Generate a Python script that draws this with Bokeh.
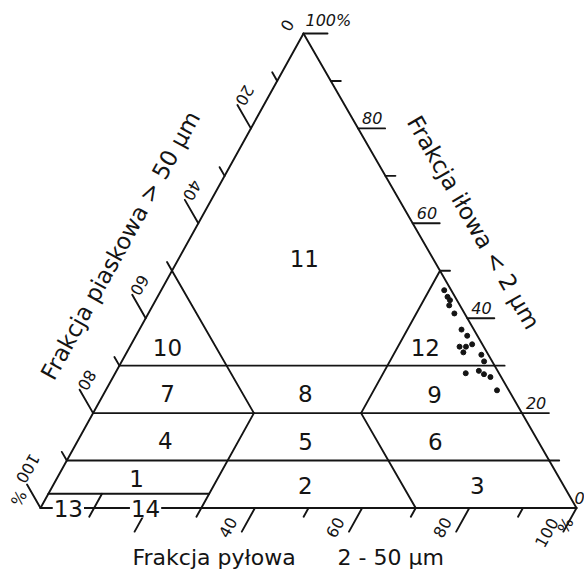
import math
from bokeh.plotting import figure
from bokeh.models import Range1d
from bokeh.core.properties import value
from bokeh.embed import file_html
from bokeh.resources import INLINE

# ---------------- data ----------------
# measured samples (percent of each fraction)
pt_sand = [1.3, 1.4, 1.3, 2.0, 1.9, 2.3, 1.9, 4.5, 3.3, 1.9, 4.4, 1.3, 1.5, 6.2, 3.5, 2.9, 2.0, 2.2]
pt_silt = [52.8, 54.1, 54.9, 55.3, 57.1, 60.1, 61.8, 61.5, 62.7, 63.6, 62.8, 66.4, 67.6, 65.4, 67.6, 68.9, 70.4, 73.0]
pt_clay = [45.9, 44.5, 43.8, 42.7, 41.0, 37.6, 36.3, 34.0, 34.0, 34.5, 32.8, 32.3, 30.9, 28.4, 28.9, 28.2, 27.6, 24.8]

# class boundaries (sand, silt, clay) start -> end
bnd_start = [(70, 0, 30), (80, 0, 20), (90, 0, 10), (97, 0, 3), (50, 0, 50),
             (50, 30, 20), (30, 50, 20), (30, 50, 20), (87, 10, 3)]
bnd_end = [(0, 70, 30), (0, 80, 20), (0, 90, 10), (67, 30, 3), (50, 30, 20),
           (70, 30, 0), (0, 50, 50), (30, 70, 0), (90, 10, 0)]

region_names = ["1", "2", "3", "4", "5", "6", "7", "8", "9", "10", "11", "12", "13", "14"]

tick_values = [10, 20, 30, 40, 50, 60, 70, 80, 90, 100]
left_labels = [20, 40, 60, 80, 100]
bottom_labels = [40, 60, 80, 100]
right_labels = [0, 20, 40, 60, 80]

title_sand = "Frakcja piaskowa > 50 µm"
title_clay = "Frakcja iłowa < 2 µm"
title_silt_a = "Frakcja pyłowa"
title_silt_b = "2 - 50 µm"

# ---------------- layout ----------------
W, H = 584, 574
BL = (40.0, 68.5)     # sand 100 %
BR = (576.0, 68.5)    # silt 100 %
AP = (303.0, 543.0)   # clay 100 %

# region label anchors (sand, silt, clay)
region_pos = {
    "1": (78.9, 14.9, 6.2), "2": (48.2, 47.1, 4.7), "3": (16.1, 79.2, 4.7),
    "4": (69.5, 16.3, 14.2), "5": (43.4, 42.6, 14.0), "6": (19.2, 66.8, 14.0),
    "7": (64.0, 11.9, 24.1), "8": (38.3, 37.6, 24.1), "9": (14.3, 61.8, 23.9),
    "10": (59.1, 7.1, 33.8), "11": (24.0, 23.4, 52.6), "12": (11.0, 55.2, 33.8),
    "13": (94.8, 5.2, 0.0), "14": (80.4, 19.6, 0.0),
}


def tern(sand, silt, clay):
    t = sand + silt + clay
    x = (sand * BL[0] + silt * BR[0] + clay * AP[0]) / t
    y = (sand * BL[1] + silt * BR[1] + clay * AP[1]) / t
    return x, y


def unit(dx, dy):
    n = math.hypot(dx, dy)
    return dx / n, dy / n


dir_left = unit(AP[0] - BR[0], AP[1] - BR[1])    # outward from left edge
dir_bottom = unit(BL[0] - AP[0], BL[1] - AP[1])  # outward from bottom edge
MAJ, MIN = 27.0, 10.0

INK = "#141414"
FONT = value("DejaVu Sans")

p = figure(width=W, height=H, x_range=Range1d(0, W), y_range=Range1d(576 - H, 576),
           x_axis_type=None, y_axis_type=None, toolbar_location=None,
           output_backend="svg", min_border=0, outline_line_color=None,
           background_fill_color="white", border_fill_color="white")

xs, ys = [], []
# triangle frame
for a, b in [((100, 0, 0), (0, 100, 0)), ((0, 100, 0), (0, 0, 100)), ((0, 0, 100), (100, 0, 0))]:
    x0, y0 = tern(*a); x1, y1 = tern(*b)
    xs.append([x0, x1]); ys.append([y0, y1])
# class boundaries
for a, b in zip(bnd_start, bnd_end):
    x0, y0 = tern(*a); x1, y1 = tern(*b)
    xs.append([x0, x1]); ys.append([y0, y1])
# ticks
for v in tick_values:
    L = MAJ if v % 20 == 0 else MIN
    # sand (left edge)
    x0, y0 = tern(v, 0, 100 - v)
    xs.append([x0, x0 + dir_left[0] * L]); ys.append([y0, y0 + dir_left[1] * L])
    # silt (bottom edge)
    x0, y0 = tern(100 - v, v, 0)
    xs.append([x0, x0 + dir_bottom[0] * L]); ys.append([y0, y0 + dir_bottom[1] * L])
    # clay (right edge)
    x0, y0 = tern(0, 100 - v, v)
    Lr = 24.0 if v == 100 else L
    xs.append([x0, x0 + Lr]); ys.append([y0, y0])

p.multi_line(xs, ys, line_color=INK, line_width=1.9, line_cap="round", line_join="round")

# sample points
px, py = zip(*[tern(a, s, c) for a, s, c in zip(pt_sand, pt_silt, pt_clay)])
p.scatter(list(px), list(py), size=5, color=INK)

# region labels
rx, ry, rt = [], [], []
bx, by, bt = [], [], []
for name in region_names:
    x, y = tern(*region_pos[name])
    if name in ("13", "14"):
        bx.append(x); by.append(y); bt.append(name)
    else:
        rx.append(x); ry.append(y); rt.append(name)
p.text(rx, ry, text=rt, text_font=FONT, text_font_size="23px", text_color=INK,
       text_align="center", text_baseline="middle")
p.text(bx, by, text=bt, text_font=FONT, text_font_size="23px", text_color=INK,
       text_align="center", text_baseline="middle",
       background_fill_color="white", padding=1)

# left tick labels (sand)
lx, ly, lt = [], [], []
for v in left_labels:
    x0, y0 = tern(v, 0, 100 - v)
    ex, ey = x0 + dir_left[0] * MAJ, y0 + dir_left[1] * MAJ
    off = (1.0, 16.0) if len(str(v)) > 2 else (7.5, 9.5)
    lx.append(ex + off[0]); ly.append(ey + off[1]); lt.append(str(v))
ax, ay = AP
lx += [ax - 16, BL[0] - 22]; ly += [ay + 8, BL[1] + 10]; lt += ["0", "%"]
p.text(lx, ly, text=lt, angle=math.radians(-120), text_font=FONT, text_font_size="16px",
       text_color=INK, text_align="center", text_baseline="middle")

# bottom tick labels (silt)
sx, sy, st = [], [], []
for v in bottom_labels:
    x0, y0 = tern(100 - v, v, 0)
    ex, ey = x0 + dir_bottom[0] * MAJ, y0 + dir_bottom[1] * MAJ
    off = (-17.0, -1.0) if len(str(v)) > 2 else (-14.0, 4.3)
    sx.append(ex + off[0]); sy.append(ey + off[1]); st.append(str(v))
sx.append(BR[0] - 11); sy.append(BR[1] - 17.5); st.append("%")
p.text(sx, sy, text=st, angle=math.radians(61), text_font=FONT, text_font_size="16px",
       text_color=INK, text_align="center", text_baseline="middle")

# right tick labels (clay)
cx, cy, ct = [], [], []
for v in right_labels:
    x0, y0 = tern(0, 100 - v, v)
    shift = -2 if v == 0 else 4
    cx.append(x0 + shift); cy.append(y0 + 10.5); ct.append(str(v))
cx.append(AP[0] + 2); cy.append(AP[1] + 13); ct.append("100%")
p.text(cx, cy, text=ct, text_font=FONT, text_font_size="16px", text_font_style="italic",
       text_color=INK, text_align="left", text_baseline="middle")

# axis titles
p.text([120], [331], text=[title_sand], angle=math.radians(61), text_font=FONT,
       text_font_size="23px", text_color=INK, text_align="center", text_baseline="middle")
p.text([473], [354], text=[title_clay], angle=math.radians(-60.1), text_font=FONT,
       text_font_size="23px", text_color=INK, text_align="center", text_baseline="middle")
p.text([132, 337], [19, 19], text=[title_silt_a, title_silt_b], text_font=FONT,
       text_font_size="22px", text_color=INK, text_align="left", text_baseline="middle")

open("out.html", "w").write(file_html(p, INLINE))
